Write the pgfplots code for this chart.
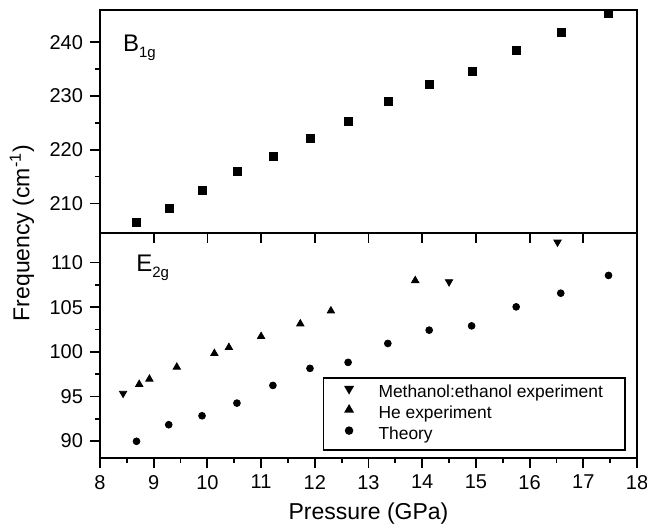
\documentclass[border=0pt]{standalone}
\usepackage{fontspec}
\setmainfont{Liberation Sans}
\usepackage{pgfplots}
\pgfplotsset{compat=1.18}
\begin{document}
\begin{tikzpicture}
\useasboundingbox (-50pt,-34.5pt) rectangle (273.5pt,229pt);
\pgfplotsset{
  common/.style={
    scale only axis,
    width=268.5pt,
    xmin=8, xmax=18,
    axis line style={line width=1.3pt},
    every tick/.style={line width=0.9pt, black},
    major tick length=5pt,
    minor tick length=2.5pt,
    tick align=outside,
    /pgf/number format/assume math mode=true,
    tick label style={font=\fontsize{10}{12}\selectfont},
    label style={font=\fontsize{11.5}{13}\selectfont},
    ytick pos=left,
    minor y tick num=1,
  }
}
% lower panel
\begin{axis}[common,
  name=lower,
  at={(0,0)}, anchor=south west,
  height=112.5pt,
  ymin=88.1, ymax=113.3,
  ytick={90,95,100,105,110},
  xtick={8,9,...,18},
  minor x tick num=1,
  xtick pos=left,
  xlabel={Pressure (GPa)},
  xlabel style={at={(axis description cs:0.5,0)}, anchor=base, yshift=-30.5pt},
  ylabel={Frequency (cm\textsuperscript{-1})},
  ylabel style={at={(axis description cs:-0.1453,1)}, anchor=center},
  legend cell align=left,
  legend image code/.code={\draw[#1] plot coordinates {(0pt,2.2pt)};},
  legend style={at={(axis description cs:0.979,0.032)}, anchor=south east,
    draw=black, line width=0.8pt, font=\fontsize{8.7}{10}\selectfont,
    nodes={inner sep=0pt, text height=6.5pt, text depth=1.9pt},
    row sep=2pt, column sep=12.9pt, inner xsep=11pt, inner ysep=3.3pt},
]
\addplot[only marks, mark=triangle*, mark size=2.1pt, mark options={rotate=180, fill=black}, black] coordinates {
(8.43,95.34) (14.50,107.83) (16.52,112.27)
};
\addlegendentry{Methanol:ethanol experiment}
\addplot[only marks, mark=triangle*, mark size=2.1pt, mark options={fill=black}, black] coordinates {
(8.73,96.35) (8.92,96.94) (9.43,98.28) (10.13,99.81) (10.40,100.49)
(11.00,101.72) (11.73,103.13) (12.30,104.58) (13.87,107.98)
};
\addlegendentry{He experiment}
\addplot[only marks, mark=*, mark size=1.7pt, mark options={fill=black}, black] coordinates {
(8.68,89.97) (9.28,91.83) (9.90,92.83) (10.55,94.25) (11.22,96.23)
(11.91,98.14) (12.62,98.81) (13.36,100.93) (14.13,102.42) (14.92,102.90)
(15.75,105.03) (16.58,106.56) (17.47,108.55)
};
\addlegendentry{Theory}
\node[anchor=base west, inner sep=0pt, font=\fontsize{12}{14}\selectfont]
  at ([xshift=18pt, yshift=-19pt]rel axis cs:0,1) {E\raisebox{-3pt}{\fontsize{7.5}{9}\selectfont 2g}};
\end{axis}
% top ticks of lower panel (pointing inward)
\begin{axis}[
  scale only axis, width=268.5pt, height=112.5pt,
  at={(0,0)}, anchor=south west,
  xmin=8, xmax=18, ymin=0, ymax=1,
  axis line style={draw=none},
  every tick/.style={line width=0.9pt, black},
  major tick length=5pt,
  tick align=inside,
  xtick={8,9,...,18}, xticklabels={},
  xtick pos=right,
  ytick=\empty,
]
\end{axis}
% upper panel
\begin{axis}[common,
  at={(0,112.5pt)}, anchor=south west,
  height=111.5pt,
  ymin=204.5, ymax=246,
  ytick={210,220,230,240},
  xtick=\empty,
]
\addplot[only marks, mark=square*, mark size=2pt, mark options={fill=black}, black] coordinates {
(8.68,206.4) (9.29,209.0) (9.905,212.35) (10.56,215.9) (11.22,218.8)
(11.91,222.1) (12.63,225.3) (13.37,228.9) (14.14,232.1) (14.93,234.6)
(15.75,238.4) (16.60,241.8) (17.47,245.4)
};
\node[anchor=base west, inner sep=0pt, font=\fontsize{12}{14}\selectfont]
  at ([xshift=11.35pt, yshift=-20.85pt]rel axis cs:0,1) {B\raisebox{-3pt}{\fontsize{7.5}{9}\selectfont 1g}};
\end{axis}
\end{tikzpicture}
\end{document}
